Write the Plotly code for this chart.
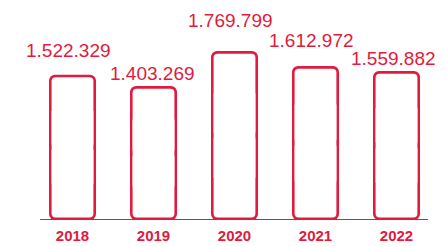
import plotly.graph_objects as go

# ---- data ----
years = ["2018", "2019", "2020", "2021", "2022"]
values = [1522329, 1403269, 1769799, 1612972, 1559882]
labels = ["1.522.329", "1.403.269", "1.769.799", "1.612.972", "1.559.882"]

# ---- style / layout constants ----
RED = "#E11B3D"
# page has an 8px body margin, so the figure is 8px smaller than the window
W, H = 438, 238
M_L, M_R, M_T, M_B = 24, 9, 2, 26
YMAX = 2.2e6
px_per_cat = (W - M_L - M_R) / len(years)
px_per_unit = (H - M_T - M_B) / YMAX

bar_px = 47.0       # outer bar width in px
stroke_px = 2.6     # outline thickness in px
outer_r, inner_r = 6, 4
label_xshift = [-4, -1, -4, -4, -3]
label_yshift = [24, 13, 31, 26, 13]
FONT = "Liberation Sans, Arial, sans-serif"

xs = list(range(len(years)))
q1 = [v * 0.25 for v in values]
q3 = [v * 0.75 for v in values]
mid = [v * 0.5 for v in values]
t_units = stroke_px / px_per_unit
w_outer = bar_px / px_per_cat
w_inner = (bar_px - 2 * stroke_px) / px_per_cat


def part(base, y, width, color, radius):
    return go.Bar(x=xs, y=y, base=base, width=width, hoverinfo="skip",
                  marker=dict(color=color, line=dict(width=0), cornerradius=radius))


fig = go.Figure()
# outer red body: lower end (rounded at bottom), upper end (rounded at top), square middle
fig.add_trace(part(mid, [-m for m in mid], w_outer, RED, outer_r))
fig.add_trace(part(mid, [v - m for v, m in zip(values, mid)], w_outer, RED, outer_r))
fig.add_trace(part(q1, [b - a for a, b in zip(q1, q3)], w_outer, RED, 0))
# inner white body
fig.add_trace(part(mid, [-(m - t_units) for m in mid], w_inner, "white", inner_r))
fig.add_trace(part(mid, [v - t_units - m for v, m in zip(values, mid)], w_inner, "white", inner_r))
fig.add_trace(part(q1, [b - a for a, b in zip(q1, q3)], w_inner, "white", 0))

# baseline
fig.add_shape(type="line", xref="x", yref="y", x0=-0.40, x1=len(years) - 1 + 0.39, y0=0, y1=0,
              line=dict(color=RED, width=2), layer="above")

for i, (v, lab) in enumerate(zip(values, labels)):
    fig.add_annotation(x=i, y=v, text=lab, showarrow=False, xanchor="center", yanchor="middle",
                       xshift=label_xshift[i], yshift=label_yshift[i],
                       font=dict(family=FONT, size=19, color=RED))

fig.update_layout(
    width=W, height=H, margin=dict(l=M_L, r=M_R, t=M_T, b=M_B, autoexpand=False),
    barmode="overlay", showlegend=False,
    plot_bgcolor="white", paper_bgcolor="white",
    xaxis=dict(tickmode="array", tickvals=xs, ticktext=years, range=[-0.5, len(years) - 0.5],
               showgrid=False, zeroline=False, showline=False, ticks="", automargin=False,
               ticklabelstandoff=5,
               tickfont=dict(family=FONT, size=15, color=RED, weight="bold")),
    yaxis=dict(range=[0, YMAX], visible=False, showgrid=False, zeroline=False, automargin=False),
)

fig.write_html("out.html")
